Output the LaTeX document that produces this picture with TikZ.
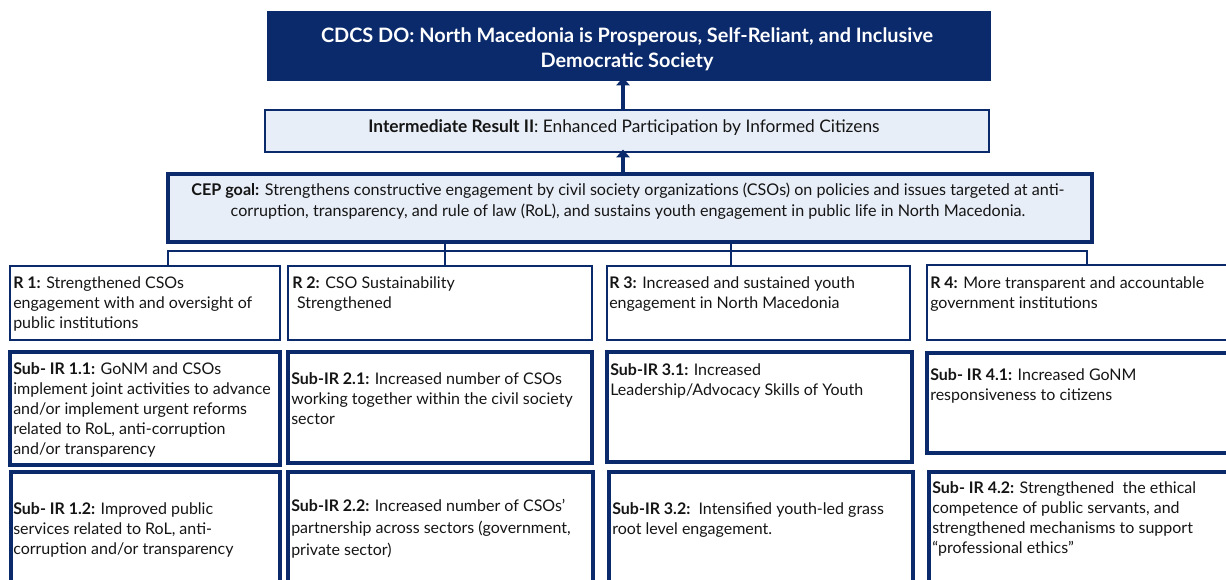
\documentclass[tikz,border=0pt]{standalone}
\usepackage{fontspec}
\setmainfont{Lato}
\usetikzlibrary{fit,arrows.meta}

\definecolor{navy}{HTML}{0B2A6B}
\definecolor{paleblue}{HTML}{E8EEF8}
\definecolor{ink}{HTML}{151515}

\tikzset{
  box/.style={draw=navy, line width=2.2pt, inner sep=0pt},
  subbox/.style={box, line width=2.6pt},
  goalbox/.style={box, fill=paleblue},
  txt/.style={anchor=north west, align=left, inner sep=0pt, text=ink,
    font=\fontsize{12}{15}\selectfont, execute at begin node={\rule{0pt}{12pt}}},
  ctxt/.style={anchor=center, align=center, inner sep=0pt, text=ink},
  link/.style={draw=navy, line width=1.6pt},
  uparrow/.style={draw=navy, line width=3pt, -{Triangle[length=6pt,width=10pt]}},
}

\begin{document}
\begin{tikzpicture}[x=0.75pt,y=-0.75pt]
\useasboundingbox (0,0) rectangle (1226,580);

% top one
\node[box, fill=navy, fit={(268,12) (990,80)}] (top) {};
\node[ctxt, text=white, font=\bfseries\fontsize{14.9}{18.75}\selectfont] (topt) at (627,49)
  {CDCS DO: North Macedonia is Prosperous, Self-Reliant, and Inclusive\\Democratic Society};

\node[goalbox, fit={(265,110) (989,152)}] (ir) {};
\node[ctxt, font=\fontsize{13}{15}\selectfont] (irt) at (624,128)
  {\textbf{Intermediate Result II}: Enhanced Participation by Informed Citizens};

\node[goalbox, line width=2.6pt, fit={(168,174) (1092,242)}] (cep) {};
\node[ctxt, font=\fontsize{12.1}{15.75}\selectfont] (cept) at (628,201)
  {\textbf{CEP goal:} Strengthens constructive engagement by civil society organizations (CSOs) on policies and issues targeted at anti-\\corruption, transparency, and rule of law (RoL), and sustains youth engagement in public life in North Macedonia.};

\draw[uparrow] ([xshift=-3]ir.north) -- ([xshift=-3,yshift=3]ir.north |- top.south);
\draw[uparrow] ([xshift=-3]cep.north -| ir.north) -- ([xshift=-3,yshift=3]ir.south);

% results row
\node[box, fit={(10,266) (280,340)}] (r1) {};
\node[box, fit={(288,266) (592,340)}] (r2) {};
\node[box, fit={(607,266) (910,340)}] (r3) {};
\node[box, fit={(927,265) (1240,340)}] (r4) {};

\node[txt] (r1t) at (13,276) {\textbf{R 1:} Strengthened CSOs\\engagement with and oversight of\\public institutions};
\node[txt] (r2t) at (292,276) {\textbf{R 2:} CSO Sustainability\\\hspace*{0.3em}Strengthened};
\node[txt] (r3t) at (609,276) {\textbf{R 3:} Increased and sustained youth\\engagement in North Macedonia};
\node[txt] (r4t) at (930,276) {\textbf{R 4:} More transparent and accountable\\government institutions};

% bus from the goal down to the results
\coordinate (busL) at (168,251);
\coordinate (busR) at (1087,251);
\coordinate (tap2) at (445,251);
\coordinate (tap3) at (731,251);
\draw[link] (r1.north -| busL) -- (busL) -- (busR) -- (r4.north -| busR);
\draw[link] (cep.south -| tap2) -- (r2.north -| tap2);
\draw[link] (cep.south -| tap3) -- (r3.north -| tap3);

% sub results, first row
\node[subbox, fit={(10,352) (280,465)}] (s11) {};
\node[subbox, fit={(288,352) (592,463)}] (s21) {};
\node[subbox, fit={(607,352) (912,462)}] (s31) {};
\node[subbox, fit={(927,353) (1240,453)}] (s41) {};

\node[txt] (s11t) at (13,362) {\textbf{Sub- IR 1.1:} GoNM and CSOs\\implement joint activities to advance\\and/or implement urgent reforms\\related to RoL, anti-corruption\\and/or transparency};
\node[txt] (s21t) at (291,372) {\textbf{Sub-IR 2.1:} Increased number of CSOs\\working together within the civil society\\sector};
\node[txt] (s31t) at (610,363) {\textbf{Sub-IR 3.1:} Increased\\Leadership/Advocacy Skills of Youth};
\node[txt] (s41t) at (930,368) {\textbf{Sub- IR 4.1:} Increased GoNM\\responsiveness to citizens};

% sub results, second row
\node[subbox, fit={(11,472) (280,600)}] (s12) {};
\node[subbox, fit={(288,472) (593,600)}] (s22) {};
\node[subbox, fit={(609,472) (913,600)}] (s32) {};
\node[subbox, fit={(929,472) (1240,600)}] (s42) {};

\node[txt] (s12t) at (13,502) {\textbf{Sub- IR 1.2:} Improved public\\services related to RoL, anti-\\corruption and/or transparency};
\node[txt, font=\fontsize{12}{16.5}\selectfont] (s22t) at (291,499) {\textbf{Sub-IR 2.2:} Increased number of CSOs’\\partnership across sectors (government,\\private sector)};
\node[txt] (s32t) at (612,502) {\textbf{Sub-IR 3.2:}\ \ Intensified youth-led grass\\root level engagement.};
\node[txt] (s42t) at (932,481) {\textbf{Sub- IR 4.2:} Strengthened\ \ the ethical\\competence of public servants, and\\strengthened mechanisms to support\\“professional ethics”};

\end{tikzpicture}
\end{document}
